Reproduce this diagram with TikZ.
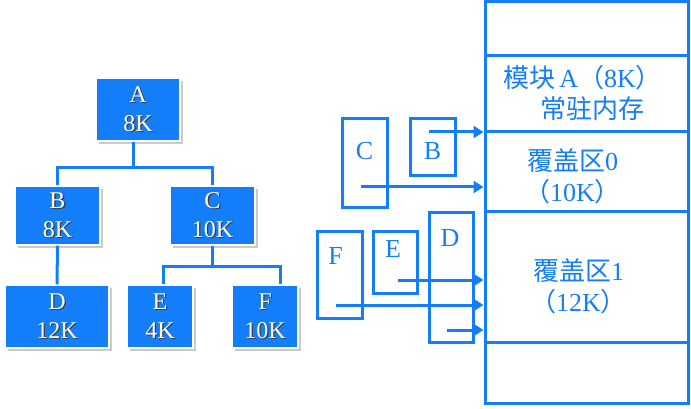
\documentclass[tikz,border=0pt]{standalone}
\usepackage{fontspec}
\setmainfont{Liberation Serif}
\newfontfamily\cjk{Noto Sans CJK SC}
\usetikzlibrary{arrows.meta,shadows}
\definecolor{ovblue}{RGB}{20,125,250}
\newcommand\shtxt[1]{\makebox[0pt][l]{\kern1.3pt\raisebox{-1.3pt}{\textcolor{black!75}{#1}}}#1}

\begin{document}
\begin{tikzpicture}[
  x=1pt, y=-1pt,
  >={Triangle[length=10pt,width=12pt]},
  modnode/.style={
    rectangle, draw=white, line width=1.2pt,
    fill=ovblue, text=white, align=center,
    font=\fontsize{24}{29}\selectfont, inner sep=0pt,
    drop shadow={shadow xshift=3pt, shadow yshift=-3pt, fill=black!35, opacity=0.6}
  },
  tline/.style={ovblue, line width=3pt},
  ovlbox/.style={
    rectangle, draw=ovblue, line width=3pt, inner sep=0pt
  },
  ovltxt/.style={anchor=center, text=ovblue, font=\fontsize{26}{30}\selectfont},
  memsec/.style={
    rectangle, draw=ovblue, line width=3pt,
    minimum width=203pt, inner sep=0pt
  },
  memtxt/.style={anchor=center, text=ovblue, align=center,
    font=\fontsize{26}{31}\selectfont},
  arr/.style={->, ovblue, line width=3pt}
]
\useasboundingbox (0,0) rectangle (691,409);

%% ── Overlay tree ─────────────────────────────────────────────────────
\node[modnode, minimum width=84pt, minimum height=63pt] (a) at (138,109.5) {\shtxt{A}\\\shtxt{8K}};
\node[modnode, minimum width=85pt, minimum height=59pt] (b) at (57.5,215.5) {\shtxt{B}\\\shtxt{8K}};
\node[modnode, minimum width=85pt, minimum height=59pt] (c) at (212.5,215.5) {\shtxt{C}\\\shtxt{10K}};
\node[modnode, minimum width=104pt, minimum height=63pt] (d) at (57,316.5) {\shtxt{D}\\\shtxt{12K}};
\node[modnode, minimum width=66pt, minimum height=63pt] (e) at (160,316.5) {\shtxt{E}\\\shtxt{4K}};
\node[modnode, minimum width=66pt, minimum height=63pt] (f) at (265,316.5) {\shtxt{F}\\\shtxt{10K}};

\draw[tline] ([xshift=-5pt]a.south) -- ++(0,26) -| (b.north);
\draw[tline] ([xshift=-5pt]a.south) -- ++(0,26) -| (c.north);
\draw[tline] (b.south) -- (d.north);
\draw[tline] (c.south) -- ++(0,21) -| ([xshift=3pt]e.north);
\draw[tline] (c.south) -- ++(0,21) -| ([xshift=15pt]f.north);

%% ── Memory layout ────────────────────────────────────────────────────
\node[memsec, minimum height=54pt] (memtop) at (586.5,29) {};
\node[memsec, minimum height=76pt,
  label={[memtxt, xshift=-4pt, yshift=1pt]center:{\cjk 模块}\,A{\cjk （}8K{\cjk ）}\\\hspace*{20pt}{\cjk 常驻内存}}]
  (memA) at (586.5,94) {};
\node[memsec, minimum height=79pt,
  label={[memtxt, xshift=-14pt, yshift=-5pt]center:{\cjk 覆盖区}0\\{\cjk （}10K{\cjk ）}}]
  (ov0) at (586.5,171.5) {};
\node[memsec, minimum height=131pt,
  label={[memtxt, xshift=-8pt, yshift=-10pt]center:{\cjk 覆盖区}1\\{\cjk （}12K{\cjk ）}}]
  (ov1) at (586.5,276.5) {};
\node[memsec, minimum height=61pt] (membot) at (586.5,372.5) {};

%% ── Modules loaded into overlay areas ────────────────────────────────
\node[ovlbox, minimum width=45pt, minimum height=88pt,
  label={[ovltxt, yshift=-34pt]north:C}] (oc) at (364.5,163) {};
\node[ovlbox, minimum width=45pt, minimum height=57pt,
  label={[ovltxt, yshift=-34pt]north:B}] (ob) at (432.5,147.5) {};
\node[ovlbox, minimum width=45pt, minimum height=87pt,
  label={[ovltxt, xshift=-4pt, yshift=-26pt]north:F}] (of) at (339.5,274.5) {};
\node[ovlbox, minimum width=44pt, minimum height=62pt,
  label={[ovltxt, xshift=-2pt, yshift=-19pt]north:E}] (oe) at (395,262) {};
\node[ovlbox, minimum width=44pt, minimum height=130pt,
  label={[ovltxt, xshift=-1pt, yshift=-28pt]north:D}] (od) at (451,277) {};

\coordinate (bin) at (429,132);
\coordinate (cin) at (361,187);
\coordinate (ein) at (398,280);
\coordinate (fin) at (336,305);
\coordinate (din) at (447,330);

\draw[arr] (bin) -- (bin -| ov0.west);
\draw[arr] (cin) -- (cin -| ov0.west);
\draw[arr] (ein) -- (ein -| ov1.west);
\draw[arr] (fin) -- (fin -| ov1.west);
\draw[arr] (din) -- (din -| ov1.west);

\end{tikzpicture}
\end{document}
